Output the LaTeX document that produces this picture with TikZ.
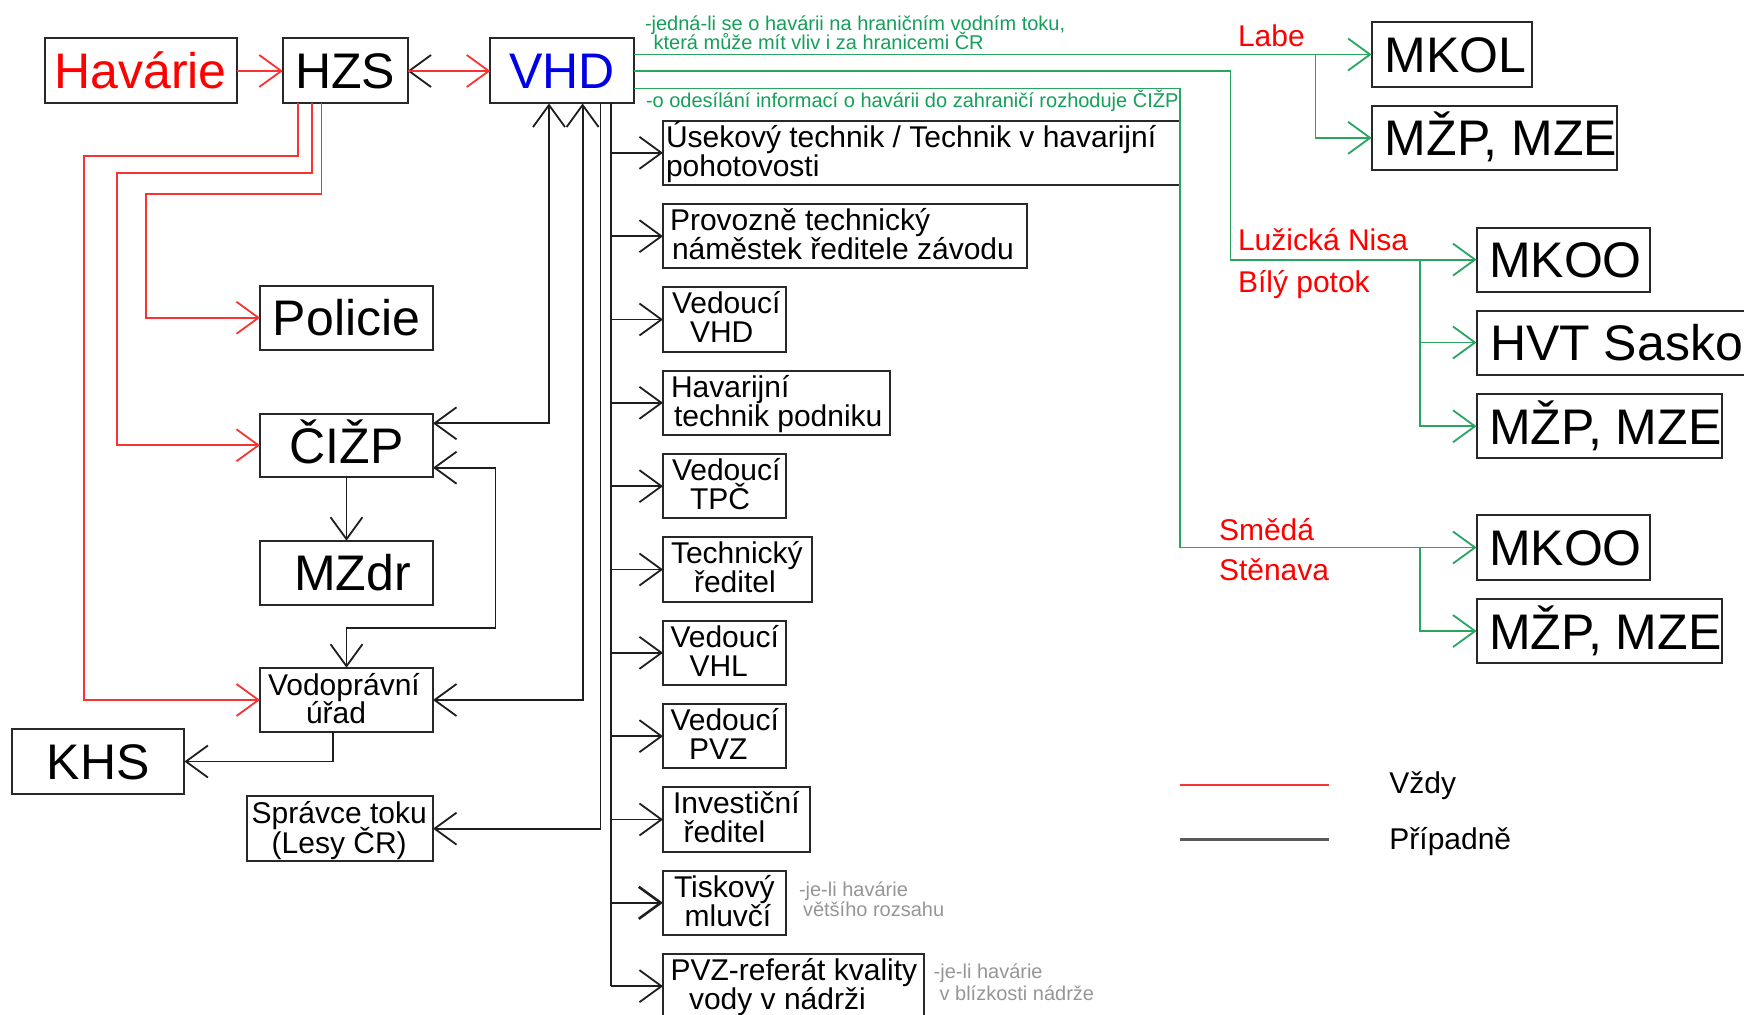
\documentclass[tikz,border=0pt]{standalone}
\usepackage{fontspec}
\setmainfont{Liberation Sans}
\usetikzlibrary{arrows.meta}
\definecolor{redl}{RGB}{250,50,50}
\definecolor{redt}{RGB}{255,0,0}
\definecolor{greenl}{RGB}{40,165,95}
\definecolor{greent}{RGB}{20,160,90}
\definecolor{bluet}{RGB}{0,0,230}
\definecolor{grayt}{RGB}{150,150,150}
\definecolor{linec}{RGB}{30,30,30}
\definecolor{boxc}{RGB}{40,40,40}
\definecolor{legg}{RGB}{90,90,90}
\tikzset{
  box/.style={draw=boxc, line width=2pt, inner sep=0pt, outer sep=0pt, anchor=north west},
  big/.style={font=\fontsize{50}{50}\selectfont, text height=36pt, text depth=0pt},
  bigt/.style={font=\fontsize{50}{50}\selectfont, inner sep=0pt, outer sep=0pt, anchor=base west},
  mid/.style={font=\fontsize{30}{30}\selectfont, inner sep=0pt, outer sep=0pt, anchor=base west},
  sm/.style={font=\fontsize{20}{20}\selectfont, inner sep=0pt, outer sep=0pt, anchor=base west},
  blk/.style={draw=linec, line width=1.8pt},
  rl/.style={draw=redl, line width=1.8pt},
  gl/.style={draw=greenl, line width=1.8pt},
}
% right column box: name, index, right x, line1, offset1, line2, offset2, arrow style
\newcommand\myrbox[8]{%
  \node[box, minimum width={#3-663}, minimum height=64.3] (#1) at (663,{120.7+83.33*#2}) {};
  \node[mid] (#1a) at ({663+#5},{120.7+83.33*#2+26.5}) {#4};
  \node[mid] (#1b) at ({663+#7},{120.7+83.33*#2+55.5}) {#6};
  \draw[blk,->,#8] (#1.west -| 611,0) -- (#1.west);
}
\begin{document}
\begin{tikzpicture}[x=1pt,y=-1pt, >={Straight Barb[length=22pt,width=32pt]}, line join=miter]
\useasboundingbox (0,0) rectangle (1744,1014);
\clip (0,0) rectangle (1744,1014);
\fill[white] (0,0) rectangle (1744,1014);

% top row
\node[box, big, minimum width=192, minimum height=65, text=redt] (hav) at (44.6,38.5) {Havárie};
\node[box, big, minimum width=124.7, minimum height=65] (hzs) at (282.8,38.5) {HZS};
\node[box, big, minimum width=143.7, minimum height=65, text=bluet] (vhd) at (490.3,38.5) {VHD};

% left column
\node[box, big, minimum width=173, minimum height=63.5] (pol) at (260,286) {Policie};
\node[box, big, minimum width=173, minimum height=63.5] (cizp) at (260,413.5) {ČIŽP};
\node[box, big, minimum width=173, minimum height=64.3] (mzdr) at (260,540.7) {\hspace*{12pt}MZdr};
\node[box, minimum width=173, minimum height=64.6] (vod) at (260,667.7) {};
\node[mid] (voda) at (268,695) {Vodoprávní};
\node[mid] (vodb) at (306,723.5) {úřad};
\node[box, big, minimum width=172.4, minimum height=65] (khs) at (12,729) {KHS};
\node[box, minimum width=186, minimum height=64.7] (spr) at (247,796.3) {};
\node[mid] (spra) at (251.7,823.5) {Správce toku};
\node[mid] (sprb) at (271.7,853) {(Lesy ČR)};

% right column
\myrbox{usek}{0}{1180}{Úsekový technik / Technik v havarijní}{3}{pohotovosti}{3}{}
\myrbox{prov}{1}{1026.7}{Provozně technický}{7}{náměstek ředitele závodu}{9}{}
\myrbox{vvhd}{2}{786}{Vedoucí}{9}{VHD}{27}{}
\myrbox{havt}{3}{890}{Havarijní}{8}{technik podniku}{11}{}
\myrbox{vtpc}{4}{786}{Vedoucí}{9}{TPČ}{27}{}
\myrbox{tech}{5}{812}{Technický}{8}{ředitel}{31}{}
\myrbox{vvhl}{6}{786}{Vedoucí}{7.5}{VHL}{26.5}{}
\myrbox{vpvz}{7}{786}{Vedoucí}{7.5}{PVZ}{26}{}
\myrbox{inv}{8}{810}{Investiční}{10}{ředitel}{20.5}{}
\myrbox{tisk}{9}{786}{Tiskový}{11}{mluvčí}{21.6}{line width=2.6pt}
\myrbox{pvzr}{10}{924}{PVZ-referát kvality}{7.5}{vody v nádrži}{26}{}

% far right boxes
\node[box, minimum width=160.7, minimum height=64.4] (mkol) at (1371.6,22.3) {};
\node[bigt] (mkolt) at (1384.8,72.5) {MKOL};
\node[box, minimum width=245, minimum height=64.3] (mzp1) at (1371.6,105.7) {};
\node[bigt] (mzp1t) at (1384.8,155.8) {MŽP, MZE};
\node[box, minimum width=173.5, minimum height=64.2] (mkoo1) at (1476.5,227.5) {};
\node[bigt] (mkoo1t) at (1489,277.6) {MKOO};
\node[box, minimum width=330, minimum height=64] (hvt) at (1476.5,310.5) {};
\node[bigt] (hvtt) at (1490,360.5) {HVT Sasko};
\node[box, minimum width=245.2, minimum height=64.1] (mzp2) at (1476.5,394.2) {};
\node[bigt] (mzp2t) at (1489,444.2) {MŽP, MZE};
\node[box, minimum width=173.5, minimum height=65] (mkoo2) at (1476.5,515) {};
\node[bigt] (mkoo2t) at (1489,565.5) {MKOO};
\node[box, minimum width=245.2, minimum height=64.5] (mzp3) at (1476.5,598.8) {};
\node[bigt] (mzp3t) at (1489,649) {MŽP, MZE};

% red connectors
\draw[rl,->] (hav.east) -- (hzs.west);
\draw[blk,->] (vhd.west) -- (hzs.east);
\draw[rl,->] (hzs.east) -- (vhd.west);
\draw[rl,->] (hzs.south -| 298.2,0) |- (84,155.7) |- (vod.west);
\draw[rl,->] (hzs.south -| 311.6,0) |- (117,173.3) |- (cizp.west);
\draw[rl,->] (hzs.south -| 321.4,0) |- (146,194) |- (pol.west);

% black connectors
\draw[blk,->] (cizp.south) -- (mzdr.north);
\draw[blk,<->] (vhd.south -| 549,0) |- (cizp.east |- 0,423.3);
\draw[blk,<->] (cizp.east |- 0,467.7) -| (495.5,628.3) -| (vod.north);
\draw[blk,<->] (vhd.south -| 582.6,0) |- (vod.east);
\draw[blk,->] (vod.south -| 332.6,0) |- (khs.east);
\draw[blk,->] (vhd.south -| 600.4,0) |- (spr.east);
\draw[blk] (vhd.south -| 611,0) -- (pvzr.west -| 611,0);

% green connectors
\draw[gl,->] (vhd.east |- mkol.west) -- (mkol.west);
\draw[gl,->] (mkol.west -| 1315.5,0) |- (mzp1.west);
\draw[gl,->] (vhd.east |- 0,70.7) -| (mkoo1.west -| 1230.5,0) -- (mkoo1.west);
\draw[gl,->] (mkoo1.west -| 1420,0) |- (mzp2.west);
\draw[gl,->] (hvt.west -| 1420,0) -- (hvt.west);
\draw[gl,->] (vhd.east |- 0,88.5) -| (mkoo2.west -| 1180,0) -- (mkoo2.west);
\draw[gl,->] (mkoo2.west -| 1420,0) |- (mzp3.west);

% green notes
\node[sm, text=greent] (g1) at (645,31) {-jedná-li se o havárii na hraničním vodním toku,};
\node[sm, text=greent] (g2) at (653.6,50) {která může mít vliv i za hranicemi ČR};
\node[sm, text=greent] (g3) at (646,107) {-o odesílání informací o havárii do zahraničí rozhoduje ČIŽP};

% red river labels
\node[mid, text=redt] (labe) at (1238,46.7) {Labe};
\node[mid, text=redt] (luz) at (1238,250) {Lužická Nisa};
\node[mid, text=redt] (bily) at (1238,292.3) {Bílý potok};
\node[mid, text=redt] (smeda) at (1219,540) {Smědá};
\node[mid, text=redt] (stena) at (1219,580) {Stěnava};

% gray notes
\node[sm, text=grayt] (n1) at (799,896) {-je-li havárie};
\node[sm, text=grayt] (n2) at (803,916.7) {většího rozsahu};
\node[sm, text=grayt] (n3) at (933.7,978.3) {-je-li havárie};
\node[sm, text=grayt] (n4) at (939.6,1000.7) {v blízkosti nádrže};

% legend
\draw[rl] (1180,785) -- (1328.8,785);
\draw[draw=legg, line width=3pt] (1180,839.3) -- (1328.8,839.3);
\node[mid] (vzdy) at (1389.4,793.5) {Vždy};
\node[mid] (prip) at (1389.4,849.5) {Případně};
\end{tikzpicture}
\end{document}
